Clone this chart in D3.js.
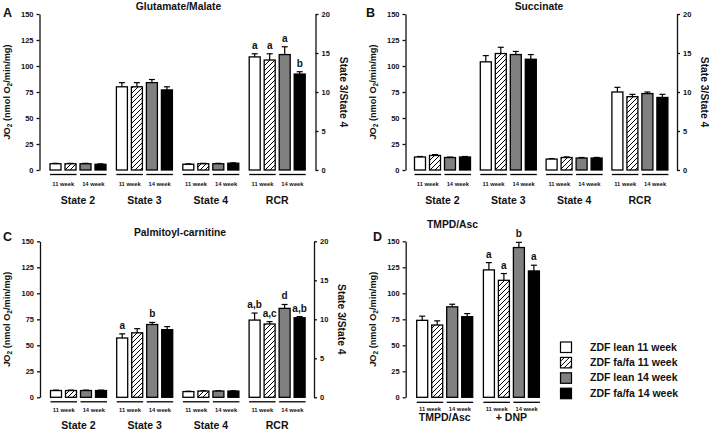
<!DOCTYPE html>
<html>
<head>
<meta charset="utf-8">
<script src="https://cdn.jsdelivr.net/npm/d3@7"></script>
<style>
  html, body { margin: 0; padding: 0; background: #fff; }
  svg { display: block; font-family: "Liberation Sans", Arial, sans-serif; font-weight: bold; }
</style>
</head>
<body>
<svg id="chart" width="709" height="434"></svg>
<script>
// ---------------- DATA ----------------
const seriesNames = ["ZDF lean 11 week", "ZDF fa/fa 11 week", "ZDF lean 14 week", "ZDF fa/fa 14 week"];
const weekLabels = ["11 week", "14 week"];
const leftTicks = [0, 25, 50, 75, 100, 125, 150];
const rightTicks = [0, 5, 10, 15, 20];

// Panel A: Glutamate/Malate
const gmGroups = ["State 2", "State 3", "State 4", "RCR"];
const gmValues = [[6, 6, 6, 5.5], [80, 80, 84, 77], [5.5, 6, 6, 6.5], [14.5, 14.1, 14.8, 12.3]];
const gmErrors = [[0.4, 0.4, 0.4, 0.4], [4, 4, 3, 3], [0.4, 0.4, 0.4, 0.4], [0.4, 0.8, 1.0, 0.3]];
const gmLetters = [null, null, null, ["a", "a", "a", "b"]];

// Panel B: Succinate
const sucGroups = ["State 2", "State 3", "State 4", "RCR"];
const sucValues = [[12.5, 14, 12, 12.5], [104, 112, 111, 106.5], [10.5, 12, 11.5, 11.5], [10.0, 9.4, 9.8, 9.3]];
const sucErrors = [[0.5, 0.8, 0.4, 0.5], [6, 6, 3, 4.5], [0.5, 0.6, 0.5, 0.6], [0.6, 0.3, 0.2, 0.4]];
const sucLetters = [null, null, null, null];

// Panel C: Palmitoyl-carnitine
const pcGroups = ["State 2", "State 3", "State 4", "RCR"];
const pcValues = [[6.5, 6.5, 6.5, 6.5], [57, 62, 70, 65], [5.5, 6, 6, 6], [9.9, 9.4, 11.4, 10.2]];
const pcErrors = [[0.4, 0.4, 0.4, 0.4], [4, 4, 2, 3], [0.3, 0.3, 0.3, 0.3], [0.9, 0.3, 0.5, 0.15]];
const pcLetters = [null, ["a", null, "b", null], null, ["a,b", "a,c", "d", "a,b"]];

// Panel D: TMPD/Asc
const tmGroups = ["TMPD/Asc", "+ DNP"];
const tmValues = [[74, 69.5, 87, 77.5], [122.5, 112.5, 144, 121.5]];
const tmErrors = [[4, 4, 2.5, 3], [7, 6.5, 5, 5.5]];
const tmLetters = [null, ["a", "a", "b", "a"]];

// ---------------- LAYOUT ----------------
const panels = [
  { id: "A", title: "Glutamate/Malate", groups: gmGroups, values: gmValues, errors: gmErrors, letters: gmLetters,
    x0: 39.5, x1: 315.5, zero: 170, step: 66.4, pad: 10.5, titleX: 178.5, titleY: 10, letterX: 3, letterY: 17,
    right: true, weekY: 15.5, groupY: 33.5, lineY: 4.5 },
  { id: "B", title: "Succinate", groups: sucGroups, values: sucValues, errors: sucErrors, letters: sucLetters,
    x0: 405.5, x1: 677, zero: 170, step: 65.8, pad: 9, titleX: 539, titleY: 10, letterX: 366, letterY: 17,
    right: true, weekY: 15.5, groupY: 33.5, lineY: 4.5 },
  { id: "C", title: "Palmitoyl-carnitine", groups: pcGroups, values: pcValues, errors: pcErrors, letters: pcLetters,
    x0: 40, x1: 314, zero: 397.3, step: 66.2, pad: 10.5, titleX: 180, titleY: 235.5, letterX: 3, letterY: 241,
    right: true, weekY: 15, groupY: 31.7, lineY: 4.5 },
  { id: "D", title: "TMPD/Asc", groups: tmGroups, values: tmValues, errors: tmErrors, letters: tmLetters,
    x0: 405.7, x1: null, zero: 397.3, step: 66.7, pad: 11, titleX: 452.5, titleY: 227.5, letterX: 373, letterY: 241,
    right: false, weekY: 14, groupY: 23.7, lineY: 5 }
];

const barW = 11, barStep = 15, plotH = 156;
const ink = "#111";
const fills = ["#ffffff", "url(#hatch)", "#808080", "#000000"];

const svg = d3.select("#chart");
const defs = svg.append("defs");
const pat = defs.append("pattern").attr("id", "hatch").attr("patternUnits", "userSpaceOnUse")
  .attr("width", 5).attr("height", 5);
pat.append("rect").attr("width", 5).attr("height", 5).attr("fill", "#fff");
pat.append("path").attr("d", "M-1,1 L1,-1 M0,5 L5,0 M4,6 L6,4")
  .attr("stroke", "#000").attr("stroke-width", 1);

panels.forEach(p => {
  const g = svg.append("g");
  const n = p.groups.length;
  const gx0 = p.x0 + p.pad;
  const groupW = 3 * barStep + barW;
  const pIn = 1 - groupW / p.step;
  const xGroup = d3.scaleBand().domain(p.groups)
    .range([gx0, gx0 + n * p.step - (p.step - groupW)]).paddingInner(pIn).paddingOuter(0);
  const xBar = d3.scaleBand().domain(d3.range(4)).range([0, groupW]).paddingInner(1 - barW / barStep).paddingOuter(0);
  const yL = d3.scaleLinear().domain([0, 150]).range([p.zero, p.zero - plotH]);
  const yR = d3.scaleLinear().domain([0, 20]).range([p.zero, p.zero - plotH]);

  // left axis
  const axL = g.append("g").attr("transform", `translate(${p.x0},0)`)
    .call(d3.axisLeft(yL).tickValues(leftTicks).tickSize(3).tickSizeOuter(0).tickPadding(3));
  axL.select(".domain").attr("stroke", ink).attr("stroke-width", 1.3);
  axL.selectAll(".tick line").attr("stroke", ink).attr("stroke-width", 1.3);
  axL.selectAll(".tick text").attr("fill", ink).style("font-size", "7.5px").style("font-weight", "bold")
    .style("font-family", "Liberation Sans, Arial, sans-serif");

  // left axis label
  const ly = g.append("text").attr("transform", `translate(${p.x0 - 30},${p.zero - plotH / 2}) rotate(-90)`)
    .attr("text-anchor", "middle").attr("fill", ink).style("font-size", "9.2px");
  ly.append("tspan").attr("font-style", "italic").text("J");
  ly.append("tspan").text("O");
  ly.append("tspan").attr("dy", 2).style("font-size", "6.5px").text("2");
  ly.append("tspan").attr("dy", -2).text(" (nmol O");
  ly.append("tspan").attr("dy", 2).style("font-size", "6.5px").text("2");
  ly.append("tspan").attr("dy", -2).text("/min/mg)");

  if (p.right) {
    const axR = g.append("g").attr("transform", `translate(${p.x1},0)`)
      .call(d3.axisRight(yR).tickValues(rightTicks).tickSize(3).tickSizeOuter(0).tickPadding(3));
    axR.select(".domain").attr("stroke", ink).attr("stroke-width", 1.3);
    axR.selectAll(".tick line").attr("stroke", ink).attr("stroke-width", 1.3);
    axR.selectAll(".tick text").attr("fill", ink).style("font-size", "7.5px").style("font-weight", "bold")
      .style("font-family", "Liberation Sans, Arial, sans-serif");
    g.append("text").attr("transform", `translate(${p.x1 + 24},${p.zero - plotH / 2}) rotate(90)`)
      .attr("text-anchor", "middle").attr("fill", ink).style("font-size", "10.3px").text("State 3/State 4");
  }

  // title & panel letter
  g.append("text").attr("x", p.titleX).attr("y", p.titleY).attr("text-anchor", "middle")
    .attr("fill", ink).style("font-size", "10.3px").text(p.title);
  g.append("text").attr("x", p.letterX).attr("y", p.letterY).attr("fill", ink)
    .style("font-size", "12.5px").text(p.id);

  // bars
  p.groups.forEach((grp, gi) => {
    const y = (grp === "RCR") ? yR : yL;
    const gx = xGroup(grp);
    p.values[gi].forEach((v, si) => {
      const bx = gx + xBar(si);
      const e = p.errors[gi][si];
      const cx = bx + barW / 2;
      // error bar (upper only)
      g.append("line").attr("x1", cx).attr("x2", cx).attr("y1", y(v)).attr("y2", y(v + e))
        .attr("stroke", "#000").attr("stroke-width", 1.2);
      g.append("line").attr("x1", cx - 3).attr("x2", cx + 3).attr("y1", y(v + e)).attr("y2", y(v + e))
        .attr("stroke", "#000").attr("stroke-width", 1.2);
      g.append("rect").attr("x", bx).attr("y", y(v)).attr("width", barW).attr("height", y(0) - y(v))
        .attr("fill", fills[si]).attr("stroke", "#000").attr("stroke-width", 1.3);
      const lt = p.letters[gi] && p.letters[gi][si];
      if (lt) {
        g.append("text").attr("x", cx).attr("y", y(v + e) - 5).attr("text-anchor", "middle")
          .attr("fill", ink).style("font-size", "10px").text(lt);
      }
    });
    // underlines & week labels
    weekLabels.forEach((wl, wi) => {
      const a = gx + xBar(wi * 2);
      const b = gx + xBar(wi * 2 + 1) + barW + 0.5;
      g.append("line").attr("x1", a).attr("x2", b).attr("y1", p.zero + p.lineY).attr("y2", p.zero + p.lineY)
        .attr("stroke", "#000").attr("stroke-width", 1.3);
      g.append("text").attr("x", (a + b) / 2).attr("y", p.zero + p.weekY).attr("text-anchor", "middle")
        .attr("fill", ink).style("font-size", "5.8px").text(wl);
    });
    g.append("text").attr("x", gx + groupW / 2).attr("y", p.zero + p.groupY).attr("text-anchor", "middle")
      .attr("fill", ink).style("font-size", "10.5px").text(grp);
  });
});

// legend
const legend = svg.append("g").attr("transform", "translate(560,341.5)");
seriesNames.forEach((s, i) => {
  const row = legend.append("g").attr("transform", `translate(0,${i * 15.4})`);
  row.append("rect").attr("x", 0.5).attr("y", 0.5).attr("width", 11).attr("height", 10.5)
    .attr("fill", fills[i]).attr("stroke", "#000").attr("stroke-width", 1.2);
  row.append("text").attr("x", 30).attr("y", 9).attr("fill", ink).style("font-size", "10.5px").text(s);
});
</script>
</body>
</html>
